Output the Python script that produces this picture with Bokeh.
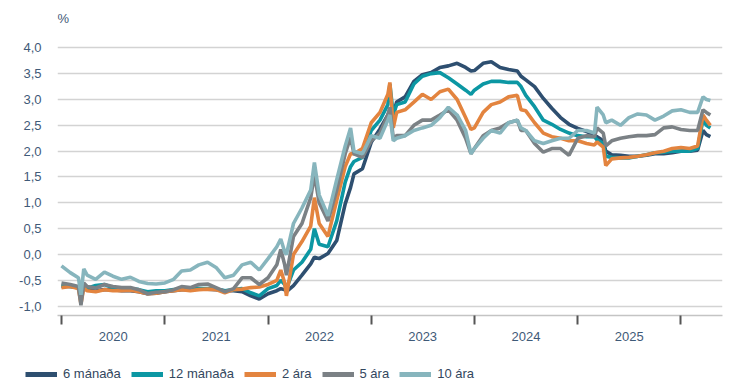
import pandas as pd
from bokeh.plotting import figure
from bokeh.layouts import column
from bokeh.models import (ColumnDataSource, FixedTicker, CustomJSTickFormatter,
                          Legend, LegendItem, Range1d)
from bokeh.embed import file_html
from bokeh.resources import INLINE

dates = [
    "2020-01-01", "2020-02-01", "2020-03-01", "2020-03-10", "2020-03-20", "2020-04-01",
    "2020-05-01", "2020-06-01", "2020-07-01", "2020-08-01", "2020-09-01", "2020-10-01",
    "2020-11-01", "2020-12-01", "2021-01-01", "2021-02-01", "2021-03-01", "2021-04-01",
    "2021-05-01", "2021-06-01", "2021-07-01", "2021-08-01", "2021-09-01", "2021-10-01",
    "2021-11-01", "2021-12-01", "2022-01-01", "2022-02-01", "2022-02-15", "2022-03-01",
    "2022-03-07", "2022-04-01", "2022-05-01", "2022-06-01", "2022-06-14", "2022-07-01",
    "2022-08-01", "2022-09-01", "2022-10-01", "2022-10-20", "2022-11-01", "2022-12-01",
    "2023-01-01", "2023-02-01", "2023-03-01", "2023-03-08", "2023-03-20", "2023-04-01",
    "2023-05-01", "2023-06-01", "2023-07-01", "2023-08-01", "2023-09-01", "2023-10-01",
    "2023-11-01", "2023-12-01", "2023-12-20", "2024-01-01", "2024-02-01", "2024-03-01",
    "2024-04-01", "2024-05-01", "2024-06-01", "2024-06-14", "2024-07-01", "2024-08-01",
    "2024-09-01", "2024-10-01", "2024-11-01", "2024-12-01", "2025-01-01", "2025-02-01",
    "2025-03-01", "2025-03-10", "2025-04-01", "2025-04-10", "2025-05-01", "2025-06-01",
    "2025-07-01", "2025-08-01", "2025-09-01", "2025-10-01", "2025-11-01", "2025-12-01",
    "2026-01-01", "2026-02-01", "2026-03-01", "2026-03-20", "2026-04-01", "2026-04-15",
]

rate_6m = [
    -0.62, -0.62, -0.64, -0.75, -0.65, -0.68, -0.70, -0.68, -0.68, -0.70,
    -0.70, -0.72, -0.76, -0.75, -0.72, -0.70, -0.68, -0.68, -0.66, -0.67,
    -0.68, -0.70, -0.70, -0.72, -0.80, -0.86, -0.76, -0.70, -0.66, -0.68,
    -0.72, -0.60, -0.40, -0.18, -0.05, -0.08, 0.02, 0.27, 0.98, 1.30,
    1.56, 1.66, 2.17, 2.43, 2.70, 2.80, 2.72, 2.95, 3.05, 3.35,
    3.48, 3.52, 3.62, 3.65, 3.70, 3.62, 3.55, 3.56, 3.70, 3.73,
    3.62, 3.58, 3.55, 3.45, 3.38, 3.25, 3.02, 2.83, 2.65, 2.52,
    2.44, 2.38, 2.30, 2.28, 2.20, 2.00, 1.93, 1.92, 1.90, 1.90,
    1.92, 1.95, 1.95, 1.97, 2.00, 2.00, 2.02, 2.40, 2.32, 2.28,
]
rate_12m = [
    -0.60, -0.62, -0.63, -0.78, -0.62, -0.65, -0.60, -0.58, -0.64, -0.66,
    -0.66, -0.68, -0.72, -0.70, -0.70, -0.68, -0.66, -0.68, -0.66, -0.66,
    -0.67, -0.70, -0.68, -0.66, -0.74, -0.80, -0.66, -0.60, -0.50, -0.58,
    -0.66, -0.30, -0.15, 0.10, 0.50, 0.20, 0.15, 0.65, 1.40, 1.70,
    1.80, 1.88, 2.40, 2.60, 2.90, 3.30, 2.70, 2.90, 2.95, 3.30,
    3.45, 3.50, 3.52, 3.42, 3.30, 3.18, 3.10, 3.18, 3.30, 3.35,
    3.35, 3.33, 3.33, 3.25, 3.08, 2.86, 2.60, 2.52, 2.42, 2.35,
    2.30, 2.28, 2.28, 2.22, 2.15, 1.90, 1.88, 1.87, 1.87, 1.90,
    1.93, 1.97, 1.98, 2.00, 2.00, 2.00, 2.05, 2.62, 2.50, 2.45,
]
rate_2y = [
    -0.64, -0.62, -0.66, -0.95, -0.65, -0.70, -0.72, -0.68, -0.70, -0.70,
    -0.69, -0.72, -0.76, -0.75, -0.72, -0.70, -0.68, -0.70, -0.68, -0.67,
    -0.68, -0.74, -0.68, -0.67, -0.64, -0.63, -0.58, -0.50, -0.30, -0.55,
    -0.80, 0.00, 0.25, 0.55, 1.10, 0.60, 0.35, 1.05, 1.70, 1.95,
    1.95, 2.05, 2.55, 2.75, 3.10, 3.33, 2.45, 2.75, 2.80, 2.95,
    3.10, 3.00, 3.15, 3.20, 3.00, 2.65, 2.42, 2.45, 2.75, 2.90,
    2.95, 3.05, 3.08, 2.80, 2.78, 2.55, 2.35, 2.28, 2.25, 2.20,
    2.20, 2.15, 2.12, 2.18, 2.08, 1.72, 1.85, 1.87, 1.88, 1.90,
    1.93, 1.97, 2.00, 2.05, 2.07, 2.05, 2.10, 2.70, 2.60, 2.50,
]
rate_5y = [
    -0.55, -0.58, -0.62, -0.98, -0.55, -0.62, -0.65, -0.58, -0.62, -0.64,
    -0.64, -0.68, -0.76, -0.73, -0.72, -0.68, -0.62, -0.64, -0.58, -0.57,
    -0.64, -0.72, -0.66, -0.45, -0.45, -0.58, -0.45, -0.20, 0.10, -0.20,
    -0.40, 0.35, 0.60, 1.10, 1.55, 1.00, 0.65, 1.25, 1.95, 2.27,
    1.95, 1.88, 2.20, 2.35, 2.70, 2.85, 2.25, 2.30, 2.30, 2.50,
    2.60, 2.60, 2.70, 2.80, 2.60, 2.25, 1.95, 2.05, 2.30, 2.40,
    2.45, 2.55, 2.60, 2.40, 2.40, 2.15, 1.98, 2.05, 2.05, 1.92,
    2.25, 2.30, 2.28, 2.45, 2.35, 2.10, 2.20, 2.25, 2.28, 2.30,
    2.30, 2.32, 2.45, 2.47, 2.42, 2.40, 2.40, 2.80, 2.75, 2.70,
]
rate_10y = [
    -0.22, -0.35, -0.45, -0.78, -0.28, -0.40, -0.48, -0.34, -0.42, -0.48,
    -0.44, -0.52, -0.56, -0.57, -0.55, -0.48, -0.32, -0.30, -0.20, -0.15,
    -0.25, -0.45, -0.40, -0.20, -0.15, -0.30, -0.08, 0.15, 0.30, 0.05,
    0.00, 0.60, 0.90, 1.25, 1.78, 1.15, 0.75, 1.45, 2.10, 2.45,
    2.00, 1.95, 2.30, 2.25, 2.60, 2.70, 2.20, 2.25, 2.30, 2.40,
    2.45, 2.50, 2.65, 2.85, 2.70, 2.40, 1.95, 2.05, 2.25, 2.40,
    2.35, 2.55, 2.60, 2.45, 2.40, 2.20, 2.15, 2.20, 2.25, 2.25,
    2.40, 2.40, 2.35, 2.85, 2.70, 2.55, 2.60, 2.50, 2.65, 2.72,
    2.70, 2.60, 2.68, 2.78, 2.80, 2.75, 2.75, 3.05, 3.00, 2.98,
]

series_names = ["6 mánaða", "12 mánaða", "2 ára", "5 ára", "10 ára"]
series_colors = ["#2e4f70", "#0c97a3", "#e3843f", "#7b8185", "#87b5bd"]
year_labels = [2020, 2021, 2022, 2023, 2024, 2025]
year_bounds = [2020, 2021, 2022, 2023, 2024, 2025, 2026]
y_ticks = [-1.0, -0.5, 0.0, 0.5, 1.0, 1.5, 2.0, 2.5, 3.0, 3.5, 4.0]

TEXT = "#3f5a78"
FONT = "Liberation Sans"

source = ColumnDataSource(dict(
    date=pd.to_datetime(dates),
    r6m=rate_6m, r12m=rate_12m, r2y=rate_2y, r5y=rate_5y, r10y=rate_10y,
))
cols = ["r6m", "r12m", "r2y", "r5y", "r10y"]

p = figure(
    width=733, height=352, x_axis_type="datetime",
    x_range=Range1d(pd.Timestamp("2019-12-18"), pd.Timestamp("2026-05-28")),
    y_range=Range1d(-1.18, 4.296),
    output_backend="svg", toolbar_location=None,
    min_border_left=57, min_border_right=11, min_border_top=32, min_border_bottom=37,
)
p.frame_align = False
p.outline_line_color = None
p.background_fill_color = "white"

p.title.text = "%"
p.title.align = "left"
p.title.text_font = FONT
p.title.text_font_size = "13px"
p.title.text_font_style = "normal"
p.title.text_color = TEXT
p.title.standoff = 14

for c, col in zip(cols, series_colors):
    p.line("date", c, source=source, line_color=col, line_width=3.6)

# y axis
p.yaxis.ticker = FixedTicker(ticks=y_ticks)
p.yaxis.formatter = CustomJSTickFormatter(code="return tick.toFixed(1).replace('.', ',');")
p.yaxis.axis_line_color = None
p.yaxis.major_tick_line_color = None
p.yaxis.minor_tick_line_color = None
p.yaxis.major_label_standoff = 10
p.yaxis.major_label_text_font = FONT
p.yaxis.major_label_text_font_size = "13px"
p.yaxis.major_label_text_color = TEXT
p.ygrid.grid_line_color = "#d3d3d3"
p.ygrid.grid_line_width = 1.5
p.xgrid.visible = False

# x axis: year boundaries as minor ticks, labels centred in each year
mid_ms = [pd.Timestamp(f"{y}-07-02").value // 10**6 for y in year_labels]
bound_ms = [pd.Timestamp(f"{y}-01-01").value // 10**6 for y in year_bounds]
p.xaxis.ticker = FixedTicker(ticks=mid_ms, minor_ticks=bound_ms)
p.xaxis.formatter = CustomJSTickFormatter(code="return String(new Date(tick).getUTCFullYear());")
p.xaxis.major_tick_line_color = None
p.xaxis.major_tick_out = 0
p.xaxis.major_tick_in = 0
p.xaxis.minor_tick_in = 0
p.xaxis.minor_tick_out = 9
p.xaxis.minor_tick_line_color = "#555555"
p.xaxis.minor_tick_line_width = 2
p.xaxis.axis_line_color = "#c4c4c4"
p.xaxis.axis_line_width = 1.5
p.xaxis.major_label_standoff = 7
p.xaxis.major_label_text_font = FONT
p.xaxis.major_label_text_font_size = "13px"
p.xaxis.major_label_text_color = TEXT

# legend strip below the chart (swatch lines sit outside its visible range)
lf = figure(
    width=733, height=30, output_backend="svg", toolbar_location=None,
    x_axis_location=None, y_axis_location=None, min_border=0,
    x_range=Range1d(0, 1), y_range=Range1d(0, 1),
)
lf.frame_align = False
lf.outline_line_color = None
lf.xgrid.visible = False
lf.ygrid.visible = False
swatches = [lf.line(x=[5, 6], y=[5, 6], line_color=col, line_width=5) for col in series_colors]
legend = Legend(
    items=[LegendItem(label=n, renderers=[r]) for n, r in zip(series_names, swatches)],
    orientation="horizontal", location=(25, 1),
    border_line_color=None, background_fill_alpha=0,
    label_text_font=FONT, label_text_font_size="13px", label_text_color="#33475e",
    glyph_width=32, glyph_height=14, label_standoff=6, spacing=10,
    padding=0, margin=0,
)
lf.add_layout(legend, "center")

layout = column(p, lf, spacing=0)
open("out.html", "w").write(file_html(layout, INLINE))
